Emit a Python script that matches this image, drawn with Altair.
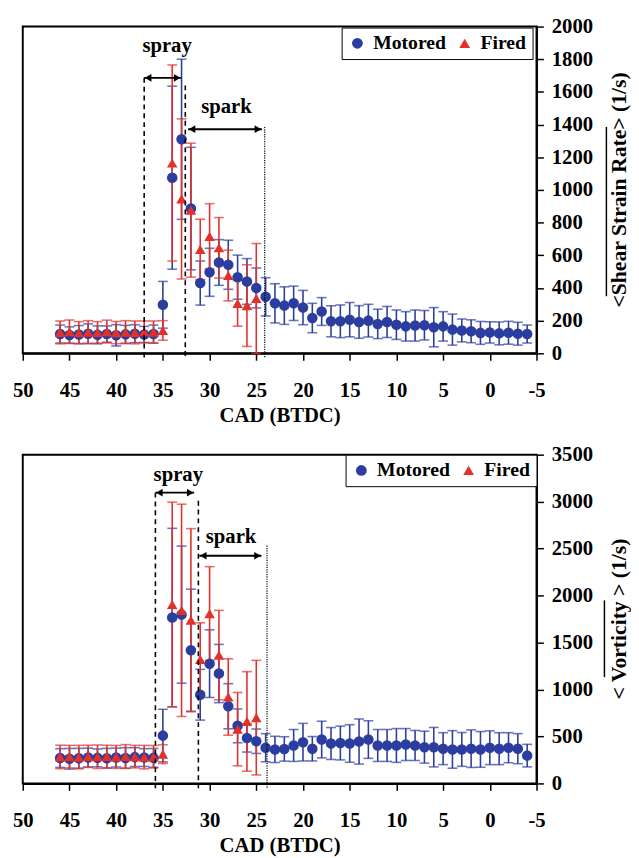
import altair as alt
import pandas as pd

BLUE = "#2b3d9f"
RED = "#e2312a"
FONT = "Liberation Serif"

# ---------------- data ----------------
cad_m = list(range(46, -5, -1))   # Motored: 46 .. -4 CAD BTDC
cad_f = list(range(46, 24, -1))   # Fired:   46 .. 25 CAD BTDC

# Top panel: <Shear Strain Rate> (1/s)
shear_m = [118, 112, 115, 120, 113, 118, 110, 116, 120, 115, 118,
           297, 1075, 1310, 886, 430, 496, 556, 542, 466, 440, 400,
           346, 306, 292, 306, 280, 216, 256, 196, 196, 206, 192, 200,
           180, 192, 175, 165, 170, 172, 160, 165, 145, 140, 135, 125, 128, 122, 126, 120, 118]
shear_m_err = [55, 50, 55, 60, 55, 50, 65, 55, 55, 50, 55,
               143, 560, 490, 375, 135, 147, 140, 150, 135, 140, 122,
               117, 120, 115, 105, 105, 90, 85, 95, 100, 105, 100, 100,
               90, 95, 90, 90, 95, 90, 120, 90, 95, 70, 70, 70, 65, 70, 70, 70, 55]
shear_f = [128, 132, 126, 130, 128, 133, 127, 130, 128, 132, 130,
           140, 1165, 945, 876, 636, 716, 646, 476, 306, 292, 336]
shear_f_err = [70, 72, 68, 70, 66, 70, 68, 70, 70, 66, 68,
               60, 600, 490, 410, 185, 200, 185, 155, 140, 250, 336]

# Bottom panel: < Vorticity > (1/s)
vort_m = [270, 262, 268, 275, 272, 268, 275, 270, 280, 275, 272,
          509, 1766, 1797, 1418, 944, 1275, 1170, 822, 613, 484, 449,
          380, 362, 367, 404, 439, 369, 467, 425, 430, 425, 446, 467,
          404, 404, 404, 414, 404, 386, 386, 370, 362, 362, 370, 362, 380, 370, 380, 370, 296]
vort_m_err = [100, 110, 105, 100, 95, 105, 100, 110, 100, 95, 100,
              280, 950, 730, 650, 270, 360, 310, 240, 180, 150, 130,
              150, 140, 130, 170, 200, 130, 195, 170, 180, 200, 240, 200,
              170, 170, 180, 170, 160, 170, 210, 170, 200, 180, 200, 190, 180, 170, 160, 160, 120]
vort_f = [282, 285, 280, 288, 284, 286, 282, 288, 285, 280, 284,
          312, 1905, 1843, 1738, 1320, 1808, 1366, 920, 578, 660, 700]
vort_f_err = [125, 120, 125, 118, 125, 120, 122, 125, 120, 125, 120,
              100, 1090, 1130, 975, 390, 500, 476, 407, 390, 530, 610]

series_names = ["Motored", "Fired"]
x_ticks = list(range(50, -6, -5))

# annotations: (x1, x2, y) arrows; vertical guides; labels
top_arrows = [(37.0, 33.05, 1686), (32.3, 24.4, 1372)]
top_dashed = [(37.0, 1686), (32.6, 1640)]
top_dotted = [(24.1, 1386)]
top_labels = [("spray", 34.55, 1880), ("spark", 28.2, 1506)]

bot_arrows = [(35.8, 31.65, 3096), (31.1, 24.45, 2424)]
bot_dashed = [(35.8, 3096), (31.2, 3010)]
bot_dotted = [(23.85, 2532)]
bot_labels = [("spray", 33.35, 3288), ("spark", 27.7, 2626)]

W = 522


def series_df(cad, vals, errs, name):
    return pd.DataFrame({
        "cad": cad, "val": vals,
        "lo": [v - e for v, e in zip(vals, errs)],
        "hi": [v + e for v, e in zip(vals, errs)],
        "series": name,
    })


def panel(m_vals, m_err, f_vals, f_err, ymax, ystep, H, arrows, dashed, dotted,
          labels, title, ol, leg_xy):
    xs = alt.Scale(domain=[-5, 50], reverse=True, nice=False, zero=False)
    ys = alt.Scale(domain=[0, ymax], nice=False, zero=False)
    xax = alt.Axis(values=x_ticks, title="CAD (BTDC)", labelExpr="'' + datum.value",
                   labelPadding=20, titlePadding=4, tickSize=7, labelFlush=False,
                   labelOverlap=False)
    yax = alt.Axis(orient="right", values=list(range(0, ymax + 1, ystep)), title=None,
                   labelExpr="'' + datum.value",
                   tickSize=7, labelPadding=8, labelFlush=False, labelOverlap=False)

    def X(f):
        return alt.X(f, type="quantitative", scale=xs, axis=xax)

    def Y(f):
        return alt.Y(f, type="quantitative", scale=ys, axis=yax)

    dm = series_df(cad_m, m_vals, m_err, "Motored")
    dfi = series_df(cad_f, f_vals, f_err, "Fired")

    layers = []
    for d, col in ((dm, BLUE), (dfi, RED)):
        layers.append(alt.Chart(d).mark_rule(color=col, strokeWidth=1.6).encode(
            x=X("cad"), y=Y("lo"), y2="hi"))
        caps = pd.concat([d[["cad", "lo"]].rename(columns={"lo": "v"}),
                          d[["cad", "hi"]].rename(columns={"hi": "v"})])
        layers.append(alt.Chart(caps).mark_tick(color=col, orient="horizontal", size=10,
                                                thickness=1.6).encode(x=X("cad"), y=Y("v")))

    leg = alt.Legend(title=None, orient="none", legendX=leg_xy[0], legendY=leg_xy[1],
                     direction="horizontal", labelFont=FONT, labelFontSize=20,
                     labelFontWeight="bold", labelColor="black", symbolSize=120,
                     symbolStrokeWidth=0, padding=6, strokeColor="black",
                     fillColor="white", columnPadding=8, labelOffset=6)
    pts = pd.concat([dm, dfi])
    layers.append(alt.Chart(pts).mark_point(filled=True, size=115, opacity=1).encode(
        x=X("cad"), y=Y("val"),
        color=alt.Color("series:N", scale=alt.Scale(domain=series_names, range=[BLUE, RED]),
                        legend=leg),
        shape=alt.Shape("series:N", scale=alt.Scale(domain=series_names,
                                                    range=["circle", "triangle-up"]),
                        legend=leg),
    ))

    # vertical guide lines
    dd = pd.DataFrame(dashed, columns=["cad", "val"])
    layers.append(alt.Chart(dd).mark_rule(color="black", strokeWidth=1.6,
                                          strokeDash=[5, 4]).encode(
        x=X("cad"), y=Y("val"), y2=alt.value(H + 5)))
    dt = pd.DataFrame(dotted, columns=["cad", "val"])
    layers.append(alt.Chart(dt).mark_rule(color="black", strokeWidth=1.2,
                                          strokeDash=[1.2, 1.2]).encode(
        x=X("cad"), y=Y("val"), y2=alt.value(H + 5)))

    # arrows
    ad = pd.DataFrame(arrows, columns=["x1", "x2", "val"])
    layers.append(alt.Chart(ad).mark_rule(color="black", strokeWidth=2).encode(
        x=X("x1"), x2="x2", y=Y("val")))
    heads = pd.DataFrame(
        [(a - 0.42, v, "triangle-left") for a, b, v in arrows] +
        [(b + 0.42, v, "triangle-right") for a, b, v in arrows],
        columns=["cad", "val", "sh"])
    layers.append(alt.Chart(heads).mark_point(filled=True, color="black", size=60,
                                              opacity=1).encode(
        x=X("cad"), y=Y("val"),
        shape=alt.Shape("sh:N", scale=None, legend=None)))

    ld = pd.DataFrame(labels, columns=["txt", "cad", "val"])
    layers.append(alt.Chart(ld).mark_text(font=FONT, fontSize=21, fontWeight="bold",
                                          color="black", baseline="middle").encode(
        x=X("cad"), y=Y("val"), text="txt:N"))

    # rotated right-hand axis title with overline
    one = pd.DataFrame({"k": [0]})
    layers.append(alt.Chart(one).mark_text(font=FONT, fontSize=22, fontWeight="bold",
                                           color="black", angle=270, baseline="middle",
                                           align="center").encode(
        x=alt.value(W + 84), y=alt.value(H / 2), text=alt.value(title)))
    layers.append(alt.Chart(one).mark_rule(color="black", strokeWidth=1.5).encode(
        x=alt.value(ol[0]), y=alt.value(ol[1]), y2=alt.value(ol[2])))

    return alt.layer(*layers).properties(width=W, height=H)


top = panel(shear_m, shear_m_err, shear_f, shear_f_err, 2000, 200, 332,
            top_arrows, top_dashed, top_dotted, top_labels,
            "<Shear Strain Rate> (1/s)", (593, 102, 274), (324, 1))
bottom = panel(vort_m, vort_m_err, vort_f, vort_f_err, 3500, 500, 334,
               bot_arrows, bot_dashed, bot_dotted, bot_labels,
               "< Vorticity > (1/s)", (591, 148, 226), (328, 0))

chart = alt.vconcat(top, bottom, spacing=17).resolve_scale(
    color="independent", shape="independent"
).properties(
    padding={"left": 3, "top": 0, "right": 0, "bottom": 0}
).configure_view(stroke="black", strokeWidth=2).configure_axis(
    labelFont=FONT, labelFontSize=21, labelFontWeight="bold", labelColor="black",
    titleFont=FONT, titleFontSize=21, titleFontWeight="bold", titleColor="black",
    domainColor="black", domainWidth=2, tickColor="black", tickWidth=1.5, grid=False,
)

chart.save("out.html", embed_options={"renderer": "svg", "actions": False})
